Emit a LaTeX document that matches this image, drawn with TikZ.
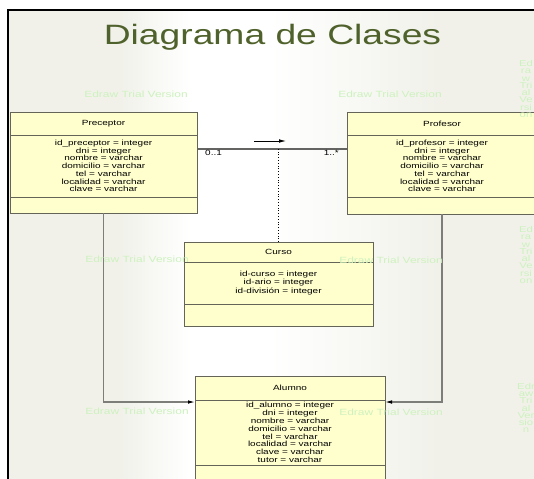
\documentclass[tikz,border=0pt]{standalone}
\usepackage{fontspec}
\newfontfamily\ancha{Liberation Sans}[FakeStretch=1.33]
\usetikzlibrary{positioning,arrows.meta}
\definecolor{fondo}{RGB}{241,241,234}
\definecolor{amarillo}{RGB}{255,255,206}
\definecolor{borde}{RGB}{100,100,88}
\definecolor{linea}{RGB}{125,125,122}
\definecolor{titulo}{RGB}{80,98,44}
\definecolor{marca}{RGB}{205,242,190}

\begin{document}
\begin{tikzpicture}[x=1pt,y=-1pt]
\tikzset{seccion/.style={draw=borde, fill=amarillo, line width=0.9pt, outer sep=0pt, inner sep=0pt,
    align=center, font=\ancha\fontsize{7.5}{7.7}\selectfont},
  enlace/.style={draw=linea, line width=1.1pt},
  punta/.style={-{Latex[length=7pt,width=3.6pt,color=black]}},
  multip/.style={inner sep=1pt, font=\ancha\fontsize{7.5}{7.5}\selectfont},
  marcaagua/.style={text=marca, font=\ancha\fontsize{9}{9}\selectfont},
  marcacol/.style={text=marca, align=center, inner sep=0pt, font=\ancha\fontsize{8.5}{7.3}\selectfont}}
\useasboundingbox (0,0) rectangle (534,478);
\clip (0,0) rectangle (534,478);
% fondo
\fill[white] (0,0) rectangle (534,478);
\fill[fondo] (8,10) rectangle (120,490);
\shade[left color=fondo, right color=white] (119.5,10) rectangle (190,490);
\fill[white] (189.5,10) rectangle (270,490);
\shade[left color=white, right color=fondo] (269.5,10) rectangle (440,490);
\fill[fondo] (439.5,10) rectangle (540,490);
\draw[line width=1.3pt] (8,490) -- (8,10) -- (540,10);
\node[text=titulo, anchor=base, font=\ancha\fontsize{28}{28}\selectfont] (titulo) at (272.5,45) {Diagrama de Clases};
% Preceptor
\node[seccion, minimum width=187pt, minimum height=23pt, anchor=north west] (preceptor) at (10,112) {Preceptor};
\node[seccion, minimum width=187pt, minimum height=62pt, below=0pt of preceptor] (preceptor-atr)
  {id\_preceptor = integer\\dni = integer\\nombre = varchar\\domicilio = varchar\\tel = varchar\\localidad = varchar\\clave = varchar};
\node[seccion, minimum width=187pt, minimum height=16pt, below=0pt of preceptor-atr] (preceptor-op) {};
% Profesor
\node[seccion, minimum width=190pt, minimum height=23pt, anchor=north west] (profesor) at (347,112) {Profesor};
\node[seccion, minimum width=190pt, minimum height=62pt, below=0pt of profesor] (profesor-atr)
  {id\_profesor = integer\\dni = integer\\nombre = varchar\\domicilio = varchar\\tel = varchar\\localidad = varchar\\clave = varchar};
\node[seccion, minimum width=190pt, minimum height=17pt, below=0pt of profesor-atr] (profesor-op) {};
% Curso
\node[seccion, minimum width=189pt, minimum height=20pt, anchor=north west] (curso) at (184,242) {Curso};
\node[seccion, minimum width=189pt, minimum height=42pt, below=0pt of curso, font=\ancha\fontsize{7.5}{8.2}\selectfont] (curso-atr)
  {id-curso = integer\\id-ario = integer\\id-división = integer};
\node[seccion, minimum width=189pt, minimum height=22pt, below=0pt of curso-atr] (curso-op) {};
% Alumno
\node[seccion, minimum width=190pt, minimum height=24pt, anchor=north west] (alumno) at (195,376) {Alumno};
\node[seccion, minimum width=190pt, minimum height=65pt, below=0pt of alumno, font=\ancha\fontsize{7.5}{7.8}\selectfont] (alumno-atr)
  {id\_alumno = integer\\dni = integer\\nombre = varchar\\domicilio = varchar\\tel = varchar\\localidad = varchar\\clave = varchar\\tutor = varchar};
\node[seccion, minimum width=190pt, minimum height=25pt, below=0pt of alumno-atr] (alumno-op) {};
% relaciones
\draw[enlace, draw=linea!80!black] ([yshift=-14pt]preceptor-atr.north east) coordinate (asocA)
  -- ([yshift=-14pt]profesor-atr.north west) coordinate (asocB);
\node[multip, anchor=north west, xshift=7pt] (multA) at (asocA) {0..1};
\node[multip, anchor=north east, xshift=-7pt] (multB) at (asocB) {1..*};
\draw[dash pattern=on 0.8pt off 2pt, line width=0.8pt] (curso.north) -- (curso.north |- asocA);
\coordinate (dirA) at (254,141);
\coordinate (dirB) at (286,141);
\draw[punta, line width=0.8pt] (dirA) -- (dirB);
\draw[enlace, punta] (preceptor-op.south) |- ([yshift=-26pt]alumno.north west);
\draw[enlace, punta] (profesor-op.south) |- ([yshift=-26pt]alumno.north east);
% marcas de agua
\node[marcaagua] (marca1) at (136,94) {Edraw Trial Version};
\node[marcaagua] (marca2) at (390,94) {Edraw Trial Version};
\node[marcaagua] (marca3) at (137,259) {Edraw Trial Version};
\node[marcaagua] (marca4) at (391,260) {Edraw Trial Version};
\node[marcaagua] (marca5) at (137,411) {Edraw Trial Version};
\node[marcaagua] (marca6) at (391,412) {Edraw Trial Version};
\node[marcacol] (marca7) at (526,89) {Ed\\ra\\w\\Tri\\al\\Ve\\rsi\\on};
\node[marcacol] (marca8) at (526,255) {Ed\\ra\\w\\Tri\\al\\Ve\\rsi\\on};
\node[marcacol] (marca9) at (526,408) {Edr\\aw\\Tri\\al\\Ver\\sio\\n};
\end{tikzpicture}
\end{document}
